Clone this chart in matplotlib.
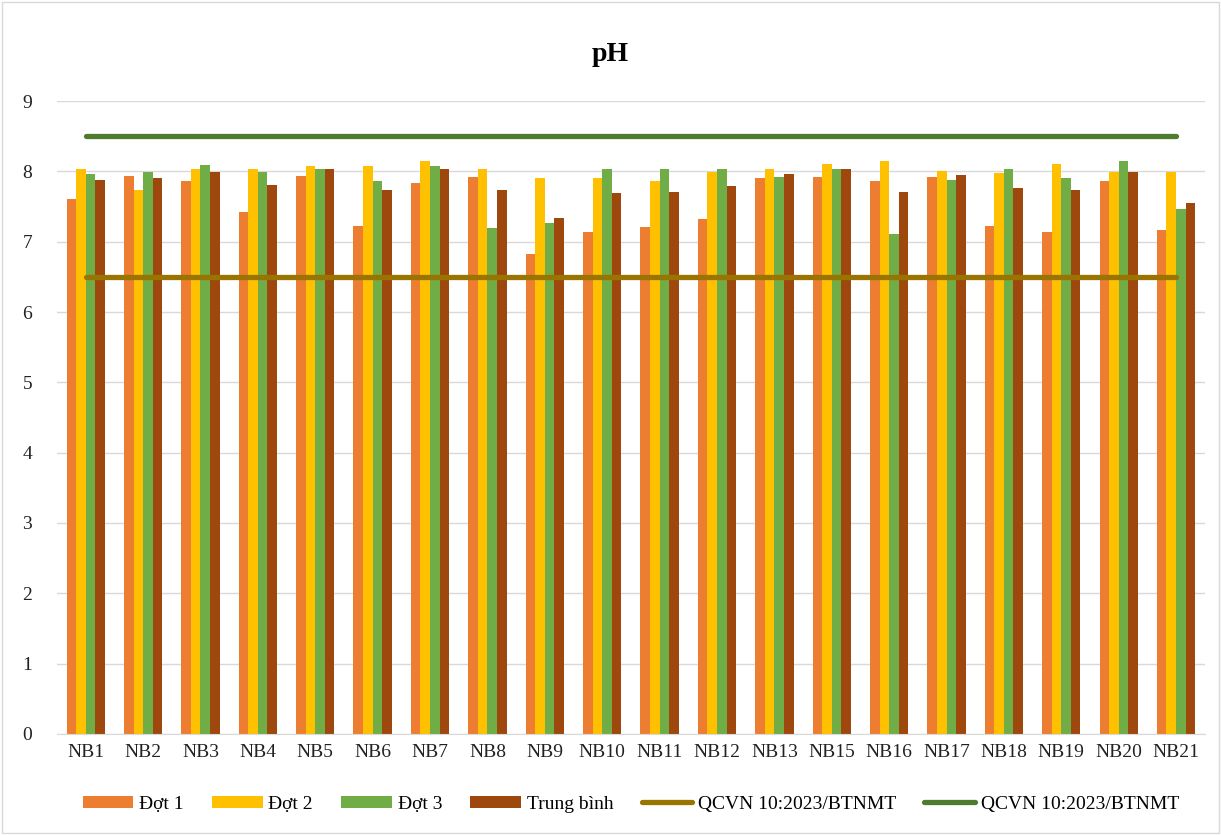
import matplotlib
matplotlib.use("Agg")
import matplotlib.pyplot as plt
import numpy as np
from matplotlib.patches import Rectangle

categories = ["NB1", "NB2", "NB3", "NB4", "NB5", "NB6", "NB7", "NB8", "NB9", "NB10",
              "NB11", "NB12", "NB13", "NB15", "NB16", "NB17", "NB18", "NB19", "NB20", "NB21"]
dot1 = [7.60, 7.93, 7.86, 7.42, 7.94, 7.22, 7.84, 7.92, 6.83, 7.14,
        7.21, 7.32, 7.91, 7.92, 7.86, 7.92, 7.23, 7.14, 7.86, 7.16]
dot2 = [8.04, 7.73, 8.03, 8.03, 8.08, 8.08, 8.15, 8.03, 7.91, 7.91,
        7.86, 7.99, 8.03, 8.11, 8.15, 8.01, 7.98, 8.11, 7.99, 7.99]
dot3 = [7.96, 7.99, 8.09, 7.99, 8.04, 7.86, 8.08, 7.19, 7.26, 8.04,
        8.04, 8.04, 7.92, 8.04, 7.11, 7.88, 8.04, 7.91, 8.15, 7.46]
trung_binh = [7.88, 7.90, 7.99, 7.81, 8.03, 7.73, 8.03, 7.73, 7.33, 7.69,
              7.71, 7.79, 7.96, 8.03, 7.71, 7.95, 7.76, 7.73, 7.99, 7.55]
qcvn_min = [6.5] * len(categories)
qcvn_max = [8.5] * len(categories)

series_names = ["Đợt 1", "Đợt 2", "Đợt 3", "Trung bình"]
colors = ["#ED7D31", "#FFC000", "#70AD47", "#9E480E"]

plt.rcParams['font.family'] = ['Liberation Serif', 'DejaVu Serif']

fig = plt.figure(figsize=(12.21, 8.35), dpi=100)
ax = fig.add_axes([0.0467, 0.121, 0.940, 0.758])

x = np.arange(len(categories))
w = 0.167
series = [dot1, dot2, dot3, trung_binh]
handles = []
for i, (vals, name, c) in enumerate(zip(series, series_names, colors)):
    b = ax.bar(x + (i - 1.5) * w, vals, width=w, color=c, label=name, zorder=2)
    handles.append(b)

l1, = ax.plot(x, qcvn_min, color="#9A7400", lw=3.8, label="QCVN 10:2023/BTNMT", zorder=3,
              solid_capstyle='round')
l2, = ax.plot(x, qcvn_max, color="#4F7B2F", lw=3.8, label="QCVN 10:2023/BTNMT", zorder=3,
              solid_capstyle='round')
handles += [l1, l2]

ax.set_xlim(-0.5, len(categories) - 0.5)
ax.set_ylim(0, 9)
ax.set_yticks(range(0, 10))
ax.set_xticks(x)
ax.set_xticklabels(categories)
ax.grid(axis='y', color='#D9D9D9', lw=1, zorder=0)
ax.set_axisbelow(True)
for s in ['top', 'right', 'left']:
    ax.spines[s].set_visible(False)
ax.spines['bottom'].set_color('#D9D9D9')
ax.tick_params(axis='both', length=0, labelsize=14, colors='#222222', pad=7)
ax.tick_params(axis='y', pad=18)

fig.text(0.5, 0.935, "pH", ha='center', va='center', fontsize=20, fontweight='bold')

leg = ax.legend(handles=handles, labels=[h.get_label() for h in handles],
                loc='upper center', bbox_to_anchor=(0.5, -0.07), ncol=6, frameon=False,
                fontsize=14, handlelength=2.6, handleheight=0.55, columnspacing=1.45,
                handletextpad=0.3)

fig.patches.append(Rectangle((0.002, 0.002), 0.996, 0.996, transform=fig.transFigure,
                             fill=False, edgecolor='#D9D9D9', lw=1))

fig.savefig("out.png", dpi=100)
